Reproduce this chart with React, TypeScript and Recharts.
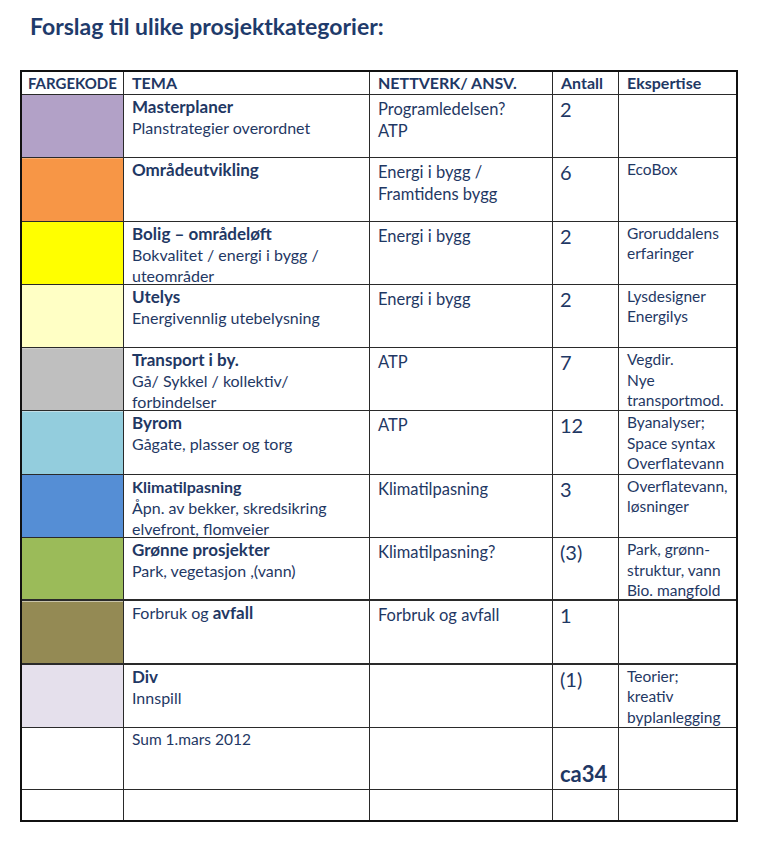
import React from "react";
import { BarChart, Bar, XAxis, YAxis, Cell } from "recharts";

const themes = [
  "Masterplaner",
  "Områdeutvikling",
  "Bolig – områdeløft",
  "Utelys",
  "Transport i by.",
  "Byrom",
  "Klimatilpasning",
  "Grønne prosjekter",
  "Forbruk og avfall",
  "Div",
];

const themeNotes = [
  "Planstrategier overordnet",
  "",
  "Bokvalitet / energi i bygg /\nuteområder",
  "Energivennlig utebelysning",
  "Gå/ Sykkel / kollektiv/\nforbindelser",
  "Gågate, plasser og torg",
  "Åpn. av bekker, skredsikring\nelvefront, flomveier",
  "Park, vegetasjon ,(vann)",
  "",
  "Innspill",
];

const networks = [
  "Programledelsen?\nATP",
  "Energi i bygg /\nFramtidens bygg",
  "Energi i bygg",
  "Energi i bygg",
  "ATP",
  "ATP",
  "Klimatilpasning",
  "Klimatilpasning?",
  "Forbruk og avfall",
  "",
];

const counts = ["2", "6", "2", "2", "7", "12", "3", "(3)", "1", "(1)"];

const expertise = [
  "",
  "EcoBox",
  "Groruddalens\nerfaringer",
  "Lysdesigner\nEnergilys",
  "Vegdir.\nNye\ntransportmod.",
  "Byanalyser;\nSpace syntax\nOverflatevann",
  "Overflatevann,\nløsninger",
  "Park, grønn-\nstruktur, vann\nBio. mangfold",
  "",
  "Teorier;\nkreativ\nbyplanlegging",
];

const swatches = [
  "#b2a1c7",
  "#f79646",
  "#ffff00",
  "#ffffc5",
  "#bfbfbf",
  "#93cddd",
  "#558ed5",
  "#9bbb59",
  "#948a54",
  "#e5e0ec",
];

const headers = ["FARGEKODE", "TEMA", "NETTVERK/ ANSV.", "Antall", "Ekspertise"];
const sumLabel = "Sum 1.mars 2012";
const sumCount = "ca34";

const rows = themes.map((theme) => ({ theme, swatch: 1 }));

const NAVY = "#1f3864";
const FONT = "Lato, 'Open Sans', sans-serif";
const colWidths = [102, 246, 183, 66, 117];
const ROW_H = 63.3;
const HEAD_H = 23;
const SUM_H = 62;
const LAST_H = 30;
const LINE = "#2a2a2a";

const cellBase = (col: number, rowIdx: number, lastRow: boolean): React.CSSProperties => ({
  boxSizing: "border-box",
  borderRight: col < colWidths.length - 1 ? `1.5px solid ${LINE}` : "none",
  borderBottom: lastRow ? "none" : `${rowIdx === 7 || rowIdx === 8 ? 2.5 : 1.5}px solid ${LINE}`,
  padding: "1px 8px 0 8px",
  whiteSpace: "pre-line",
  lineHeight: "21px",
  overflow: "visible",
  position: "relative",
});

function ThemeCell({ i }: { i: number }) {
  const t = themes[i];
  if (t === "Forbruk og avfall") {
    return (
      <span style={{ fontSize: 16 }}>
        Forbruk og <b style={{ fontSize: 17 }}>avfall</b>
      </span>
    );
  }
  return (
    <>
      <div style={{ fontWeight: 700, fontSize: i === 6 ? 16 : 17 }}>{t}</div>
      {themeNotes[i] && <div style={{ fontSize: 16 }}>{themeNotes[i]}</div>}
    </>
  );
}

export default function App() {
  return (
    <div
      style={{
        position: "absolute",
        left: 0,
        top: 0,
        width: 761,
        height: 843,
        background: "#fff",
        fontFamily: FONT,
        color: NAVY,
      }}
    >
      <div
        style={{
          position: "absolute",
          left: 30,
          top: 12,
          fontSize: 23,
          fontWeight: 700,
          color: "#1f3b6b",
        }}
      >
        Forslag til ulike prosjektkategorier:
      </div>

      <div style={{ position: "absolute", left: 22, top: 72 + HEAD_H }}>
        <BarChart
          layout="vertical"
          width={colWidths[0]}
          height={ROW_H * themes.length}
          data={rows}
          margin={{ top: 0, right: 0, bottom: 0, left: 0 }}
          barCategoryGap={0}
        >
          <XAxis type="number" domain={[0, 1]} hide />
          <YAxis type="category" dataKey="theme" hide />
          <Bar dataKey="swatch" isAnimationActive={false}>
            {rows.map((r, i) => (
              <Cell key={r.theme} fill={swatches[i]} />
            ))}
          </Bar>
        </BarChart>
      </div>

      <div
        style={{
          position: "absolute",
          left: 20,
          top: 70,
          border: "2px solid #111",
          display: "grid",
          gridTemplateColumns: colWidths.map((w) => `${w}px`).join(" "),
          gridTemplateRows: `${HEAD_H}px repeat(${themes.length}, ${ROW_H}px) ${SUM_H}px ${LAST_H}px`,
        }}
      >
        {headers.map((h, i) => (
          <div
            key={h}
            style={{
              ...cellBase(i, -1, false),
              fontWeight: 700,
              fontSize: i === 0 ? 15 : 16,
              lineHeight: "22px",
              padding: i === 0 ? "0 2px 0 6px" : "0 8px",
            }}
          >
            {h}
          </div>
        ))}
        {themes.map((t, i) => (
          <React.Fragment key={t}>
            <div style={cellBase(0, i, false)} />
            <div style={cellBase(1, i, false)}>
              <ThemeCell i={i} />
            </div>
            <div style={{ ...cellBase(2, i, false), fontSize: 16.5, lineHeight: "22px", paddingTop: 3 }}>
              {networks[i]}
            </div>
            <div style={{ ...cellBase(3, i, false), fontSize: 20, lineHeight: "25px", paddingLeft: 7, paddingTop: 2 }}>
              {counts[i]}
            </div>
            <div style={{ ...cellBase(4, i, false), fontSize: 15.5, lineHeight: "20.5px" }}>
              {expertise[i]}
            </div>
          </React.Fragment>
        ))}
        <div style={cellBase(0, 10, false)} />
        <div style={{ ...cellBase(1, 10, false), fontSize: 15.5 }}>{sumLabel}</div>
        <div style={cellBase(2, 10, false)} />
        <div
          style={{
            ...cellBase(3, 10, false),
            display: "flex",
            alignItems: "flex-end",
            fontSize: 22,
            fontWeight: 700,
            paddingLeft: 7,
            paddingBottom: 5,
          }}
        >
          {sumCount}
        </div>
        <div style={cellBase(4, 10, false)} />
        {colWidths.map((w, i) => (
          <div key={i} style={cellBase(i, 11, true)} />
        ))}
      </div>
    </div>
  );
}
